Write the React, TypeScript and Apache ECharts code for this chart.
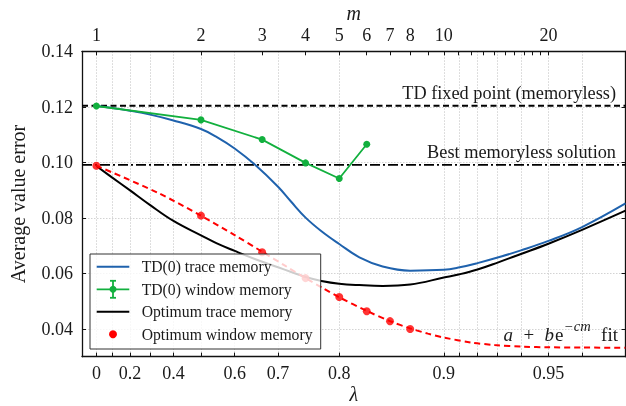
import React, { useEffect, useRef } from "react";
import * as echarts from "echarts";

// x-range of the plot expressed in lambda (bottom axis)
const LAMBDA_RANGE = [-0.1, 0.97];
const Y_RANGE = [0.03, 0.14];

// trace-memory curves, sampled in lambda
const traceLambda = [0, 0.1, 0.2, 0.3, 0.4, 0.5, 0.55, 0.6, 0.65, 0.7, 0.725, 0.75, 0.775, 0.8, 0.825, 0.85, 0.875, 0.9, 0.91, 0.92, 0.93, 0.94, 0.95, 0.96, 0.97];
const td0Trace = [0.1203, 0.1196, 0.1186, 0.1172, 0.1151, 0.112, 0.1091, 0.105, 0.0992, 0.0912, 0.0858, 0.0801, 0.0752, 0.0706, 0.0658, 0.0625, 0.061, 0.0613, 0.0622, 0.0637, 0.0657, 0.0683, 0.0717, 0.0767, 0.0852];
const optTrace = [0.0987, 0.0945, 0.0899, 0.0846, 0.0789, 0.0737, 0.0708, 0.0681, 0.0652, 0.0622, 0.0605, 0.0587, 0.0573, 0.0563, 0.0558, 0.0555, 0.056, 0.0585, 0.0597, 0.0614, 0.0639, 0.067, 0.0707, 0.0757, 0.0826];

// window-memory results, indexed by window length m
const windowM = [1, 2, 3, 4, 5, 6];
const td0Window = [0.1203, 0.1153, 0.1082, 0.0998, 0.0942, 0.1065];
const optWindowM = [1, 2, 3, 4, 5, 6, 7, 8];
const optWindow = [0.0988, 0.0808, 0.0676, 0.0583, 0.0515, 0.0464, 0.0428, 0.04];

// a + b e^{-cm} fit curve
const fitM = [1, 1.5, 2, 2.5, 3, 3.5, 4, 4.5, 5, 6, 7, 8, 9, 10, 12, 14, 17, 20, 25, 33.3];
const fitVals = [0.0988, 0.0891, 0.0808, 0.0738, 0.0678, 0.0627, 0.0583, 0.0546, 0.0514, 0.0465, 0.0428, 0.0402, 0.0383, 0.0369, 0.0351, 0.0342, 0.0336, 0.0334, 0.0333, 0.0332];

// memoryless reference levels
const tdFixedPoint = 0.1204;
const bestMemoryless = 0.0991;

// ticks
const lambdaTicks = [0, 0.1, 0.2, 0.3, 0.4, 0.5, 0.6, 0.7, 0.8, 0.9, 0.91, 0.92, 0.93, 0.94, 0.95, 0.96];
const lambdaLabels = [0, 0.2, 0.4, 0.6, 0.7, 0.8, 0.9, 0.95];
const mTicks = [1, 2, 3, 4, 5, 6, 7, 8, 9, 10, 11, 12, 13, 14, 15, 16, 17, 18, 19, 20];
const mLabels = [1, 2, 3, 4, 5, 6, 7, 8, 10, 20];
const yTicks = [0.04, 0.06, 0.08, 0.1, 0.12, 0.14];

const legendNames = ["TD(0) trace memory", "TD(0) window memory", "Optimum trace memory", "Optimum window memory"];

const BLUE = "#1f62ad";
const GREEN = "#12b03e";
const BLACK = "#000000";
const RED = "#ff0000";
const FONT = "Liberation Serif";
const TXT = "#1a1a1a";

const lamToX = (l: number) => -Math.log(1 - l);
const mToX = (m: number) => Math.log(m);

export default function App() {
  const ref = useRef<HTMLDivElement>(null);
  useEffect(() => {
    if (!ref.current) return;
    const chart = echarts.init(ref.current, undefined, { renderer: "svg" });
    const xMin = lamToX(LAMBDA_RANGE[0]);
    const xMax = lamToX(LAMBDA_RANGE[1]);

    const axisLineStyle = { color: "#111", width: 1.3 };
    const labelStyle = { fontFamily: FONT, fontSize: 18, color: TXT };
    const gridLine = { show: true, lineStyle: { color: "#c8c8c8", width: 0.8, type: [1.5, 1.5] } };

    const legendTop = 254;
    const rowY = [266.7, 289.3, 311.7, 334.3];
    const lx0 = 96.7, lx1 = 129.3, lxc = 113, tx = 141.7;

    const option: any = {
      animation: false,
      grid: { left: 82, right: 0.5, top: 51.3, bottom: 49.3, containLabel: false, outerBoundsMode: "none" },
      xAxis: [
        {
          type: "value",
          position: "bottom",
          min: xMin,
          max: xMax,
          name: "λ",
          nameLocation: "middle",
          nameGap: 27,
          nameMoveOverlap: false,
          nameTextStyle: { fontFamily: FONT, fontStyle: "italic", fontSize: 20, lineHeight: 20, color: TXT },
          axisLine: { show: true, onZero: false, lineStyle: axisLineStyle },
          axisTick: { show: true, inside: true, length: 4, customValues: lambdaTicks.map(lamToX), lineStyle: { color: "#111", width: 1 } },
          axisLabel: {
            ...labelStyle,
            margin: 7,
            hideOverlap: false,
            customValues: lambdaLabels.map(lamToX),
            formatter: (v: number) => String(Math.round((1 - Math.exp(-v)) * 100) / 100),
          },
          splitLine: gridLine,
        },
        {
          type: "value",
          position: "top",
          min: xMin,
          max: xMax,
          name: "m",
          nameLocation: "middle",
          nameGap: 28,
          nameMoveOverlap: false,
          nameTextStyle: { fontFamily: FONT, fontStyle: "italic", fontSize: 20, lineHeight: 20, color: TXT },
          axisLine: { show: true, onZero: false, lineStyle: axisLineStyle },
          axisTick: { show: true, inside: true, length: 4, customValues: mTicks.map(mToX), lineStyle: { color: "#111", width: 1 } },
          axisLabel: {
            ...labelStyle,
            margin: 7,
            hideOverlap: false,
            customValues: mLabels.map(mToX),
            formatter: (v: number) => String(Math.round(Math.exp(v))),
          },
          splitLine: { show: false },
        },
      ],
      yAxis: [
        {
          type: "value",
          position: "left",
          min: Y_RANGE[0],
          max: Y_RANGE[1],
          name: "Average value error",
          nameLocation: "middle",
          nameGap: 54,
          nameMoveOverlap: false,
          nameRotate: 90,
          nameTextStyle: { fontFamily: FONT, fontSize: 20, color: TXT },
          axisLine: { show: true, onZero: false, lineStyle: axisLineStyle },
          axisTick: { show: true, inside: true, length: 4, customValues: yTicks, lineStyle: { color: "#111", width: 1 } },
          axisLabel: { ...labelStyle, margin: 9, customValues: yTicks, formatter: (v: number) => v.toFixed(2) },
          splitLine: gridLine,
        },
        {
          type: "value",
          position: "right",
          min: Y_RANGE[0],
          max: Y_RANGE[1],
          axisLine: { show: true, onZero: false, lineStyle: axisLineStyle },
          axisTick: { show: true, inside: true, length: 4, customValues: yTicks, lineStyle: { color: "#111", width: 1 } },
          axisLabel: { show: false },
          splitLine: { show: false },
        },
      ],
      series: [
        {
          type: "line",
          name: "TD fixed point",
          data: [[xMin, tdFixedPoint], [xMax, tdFixedPoint]],
          symbol: "none",
          lineStyle: { color: BLACK, width: 1.9, type: [6, 3.5] },
          z: 2,
        },
        {
          type: "line",
          name: "Best memoryless",
          data: [[xMin, bestMemoryless], [xMax, bestMemoryless]],
          symbol: "none",
          lineStyle: { color: BLACK, width: 1.9, type: [10, 3, 2, 3] },
          z: 2,
        },
        {
          type: "line",
          name: legendNames[2],
          data: traceLambda.map((l, i) => [lamToX(l), optTrace[i]]),
          symbol: "none",
          smooth: 0.4,
          lineStyle: { color: BLACK, width: 2 },
          z: 3,
        },
        {
          type: "line",
          name: legendNames[0],
          data: traceLambda.map((l, i) => [lamToX(l), td0Trace[i]]),
          symbol: "none",
          smooth: 0.4,
          lineStyle: { color: BLUE, width: 2 },
          z: 4,
        },
        {
          type: "line",
          name: "fit",
          data: fitM.map((m, i) => [mToX(m), fitVals[i]]),
          symbol: "none",
          smooth: 0.3,
          lineStyle: { color: RED, width: 2, type: [6, 4] },
          z: 5,
        },
        {
          type: "line",
          name: legendNames[1],
          data: windowM.map((m, i) => [mToX(m), td0Window[i]]),
          symbol: "circle",
          symbolSize: 7,
          itemStyle: { color: GREEN },
          lineStyle: { color: GREEN, width: 1.8 },
          z: 6,
        },
        {
          type: "scatter",
          name: legendNames[3],
          data: optWindowM.map((m, i) => [mToX(m), optWindow[i]]),
          symbol: "circle",
          symbolSize: 8,
          itemStyle: { color: RED },
          z: 7,
        },
      ],
      graphic: {
        elements: [
          {
            type: "text",
            right: 10,
            top: 84,
            z: 50,
            style: { text: "TD fixed point (memoryless)", fontFamily: FONT, fontSize: 18.3, fill: TXT },
          },
          {
            type: "text",
            right: 10,
            top: 143,
            z: 50,
            style: { text: "Best memoryless solution", fontFamily: FONT, fontSize: 18.3, fill: TXT },
          },
          {
            type: "text",
            right: 8,
            top: 318,
            z: 50,
            style: {
              text: "{i|a}{n|  +  }{i|b}{n|e}{s|−}{si|cm}{n|  fit}",
              rich: {
                i: { fontFamily: FONT, fontStyle: "italic", fontSize: 19, lineHeight: 26, verticalAlign: "bottom", fill: TXT, padding: [0, 1] },
                n: { fontFamily: FONT, fontSize: 19, lineHeight: 26, verticalAlign: "bottom", fill: TXT },
                s: { fontFamily: FONT, fontSize: 14.5, lineHeight: 16, verticalAlign: "top", fill: TXT, padding: [0, 1, 0, 1] },
                si: { fontFamily: FONT, fontStyle: "italic", fontSize: 14.5, lineHeight: 16, verticalAlign: "top", fill: TXT, padding: [0, 1, 0, 0] },
              },
            },
          },
          // legend
          {
            type: "rect",
            z: 100,
            shape: { x: 90, y: legendTop, width: 230.7, height: 95 },
            style: { fill: "rgba(255,255,255,0.8)", stroke: "#333", lineWidth: 1 },
          },
          { type: "line", z: 101, shape: { x1: lx0, y1: rowY[0], x2: lx1, y2: rowY[0] }, style: { stroke: BLUE, lineWidth: 2 } },
          { type: "line", z: 101, shape: { x1: lx0, y1: rowY[1], x2: lx1, y2: rowY[1] }, style: { stroke: GREEN, lineWidth: 1.8 } },
          { type: "line", z: 101, shape: { x1: lxc, y1: rowY[1] - 8.5, x2: lxc, y2: rowY[1] + 8.5 }, style: { stroke: GREEN, lineWidth: 1.8 } },
          { type: "line", z: 101, shape: { x1: lxc - 3, y1: rowY[1] - 8.5, x2: lxc + 3, y2: rowY[1] - 8.5 }, style: { stroke: GREEN, lineWidth: 1.8 } },
          { type: "line", z: 101, shape: { x1: lxc - 3, y1: rowY[1] + 8.5, x2: lxc + 3, y2: rowY[1] + 8.5 }, style: { stroke: GREEN, lineWidth: 1.8 } },
          { type: "circle", z: 102, shape: { cx: lxc, cy: rowY[1], r: 3.5 }, style: { fill: GREEN } },
          { type: "line", z: 101, shape: { x1: lx0, y1: rowY[2], x2: lx1, y2: rowY[2] }, style: { stroke: BLACK, lineWidth: 2 } },
          { type: "circle", z: 102, shape: { cx: lxc, cy: rowY[3], r: 4 }, style: { fill: RED } },
          ...legendNames.map((n, i) => ({
            type: "text",
            z: 103,
            x: tx,
            y: rowY[i],
            style: { text: n, fontFamily: FONT, fontSize: 15.7, fill: TXT, verticalAlign: "middle", align: "left" },
          })),
        ],
      },
    };
    chart.setOption(option);
    return () => chart.dispose();
  }, []);
  return <div ref={ref} style={{ position: "fixed", left: 0, top: 0, width: 626, height: 406 }} />;
}
